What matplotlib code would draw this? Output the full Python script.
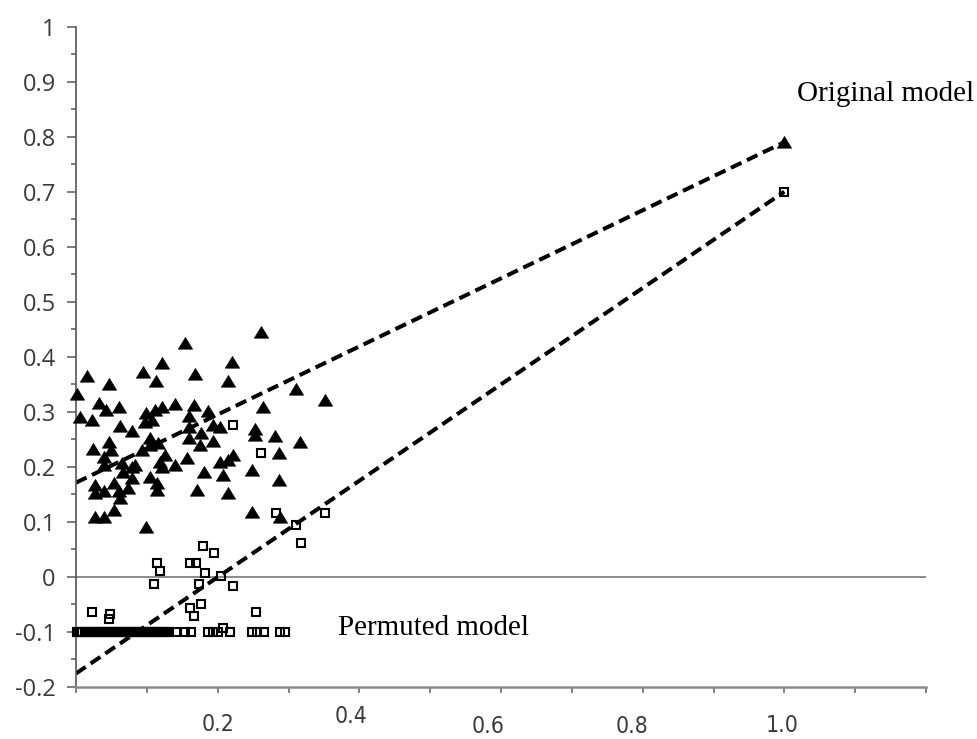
import matplotlib
matplotlib.use("Agg")
import matplotlib.pyplot as plt
from matplotlib import font_manager

# R2 (triangles) and Q2 (squares) of the y-randomised models against the
# correlation between original and permuted responses
R2_X = [0.261, 0.154, 0.016, 0.047, 0.094, 0.122, 0.113, 0.168, 0.220, 0.215,
        0.002, 0.310, 0.351, 0.264, 0.033, 0.042, 0.060, 0.006, 0.022, 0.062,
        0.079, 0.099, 0.112, 0.121, 0.140, 0.166, 0.187, 0.160, 0.097, 0.107,
        0.194, 0.203, 0.159, 0.177, 0.253, 0.253, 0.160, 0.104, 0.024, 0.047,
        0.050, 0.039, 0.039, 0.065, 0.083, 0.093, 0.104, 0.116, 0.175, 0.194,
        0.281, 0.316, 0.286, 0.221, 0.215, 0.203, 0.156, 0.140, 0.119, 0.126,
        0.121, 0.066, 0.079, 0.180, 0.208, 0.249, 0.286, 0.104, 0.114, 0.114,
        0.027, 0.027, 0.039, 0.053, 0.060, 0.062, 0.074, 0.079, 0.171, 0.215,
        0.053, 0.027, 0.039, 0.099, 0.249, 0.288]
R2_Y = [0.445, 0.424, 0.364, 0.350, 0.373, 0.388, 0.355, 0.369, 0.391, 0.355,
        0.333, 0.341, 0.321, 0.308, 0.316, 0.303, 0.308, 0.290, 0.285, 0.274,
        0.265, 0.297, 0.303, 0.309, 0.314, 0.312, 0.302, 0.292, 0.282, 0.285,
        0.276, 0.273, 0.273, 0.261, 0.268, 0.258, 0.252, 0.252, 0.232, 0.245,
        0.230, 0.217, 0.203, 0.207, 0.203, 0.230, 0.239, 0.243, 0.239, 0.247,
        0.255, 0.245, 0.224, 0.221, 0.213, 0.209, 0.215, 0.203, 0.209, 0.221,
        0.200, 0.191, 0.200, 0.191, 0.185, 0.194, 0.176, 0.182, 0.170, 0.158,
        0.167, 0.152, 0.155, 0.170, 0.155, 0.143, 0.161, 0.179, 0.158, 0.152,
        0.121, 0.109, 0.109, 0.091, 0.118, 0.109]

Q2_X = [0.221, 0.261, 0.282, 0.352, 0.311, 0.317, 0.179, 0.195, 0.115, 0.118,
        0.161, 0.170, 0.182, 0.204, 0.110, 0.173, 0.221, 0.023, 0.048, 0.046,
        0.161, 0.176, 0.167, 0.254,
        0.141, 0.154, 0.163, 0.187, 0.194, 0.201, 0.208, 0.217, 0.249, 0.256,
        0.265, 0.288, 0.295,
        0.002, 0.004, 0.007, 0.009, 0.012, 0.015, 0.017, 0.020, 0.023, 0.025,
        0.028, 0.031, 0.033, 0.036, 0.038, 0.041, 0.044, 0.046, 0.049, 0.052,
        0.054, 0.057, 0.060, 0.062, 0.065, 0.067, 0.070, 0.073, 0.075, 0.078,
        0.081, 0.083, 0.086, 0.089, 0.091, 0.094, 0.096, 0.099, 0.102, 0.104,
        0.107, 0.110, 0.112, 0.115, 0.118, 0.120, 0.123, 0.125, 0.128, 0.131]
Q2_Y = [0.276, 0.224, 0.116, 0.116, 0.094, 0.061, 0.055, 0.043, 0.024, 0.011,
        0.024, 0.024, 0.006, 0.001, -0.013, -0.013, -0.017, -0.064, -0.068, -0.077,
        -0.057, -0.050, -0.071, -0.064,
        -0.1, -0.1, -0.1, -0.1, -0.1, -0.1, -0.093, -0.1, -0.1, -0.1,
        -0.1, -0.1, -0.1,
        -0.1, -0.1, -0.1, -0.1, -0.1, -0.1, -0.1, -0.1, -0.1, -0.1,
        -0.1, -0.1, -0.1, -0.1, -0.1, -0.1, -0.1, -0.1, -0.1, -0.1,
        -0.1, -0.1, -0.1, -0.1, -0.1, -0.1, -0.1, -0.1, -0.1, -0.1,
        -0.1, -0.1, -0.1, -0.1, -0.1, -0.1, -0.1, -0.1, -0.1, -0.1,
        -0.1, -0.1, -0.1, -0.1, -0.1, -0.1, -0.1, -0.1, -0.1, -0.1]

# original (non-permuted) model and the intercepts of the randomisation lines
ORIG_X = 1.0
ORIG_R2 = 0.79
ORIG_Q2 = 0.70
R2_INTERCEPT = 0.171
Q2_INTERCEPT = -0.176

Y_TICKS = [-0.2, -0.1, 0.0, 0.1, 0.2, 0.3, 0.4, 0.5, 0.6, 0.7, 0.8, 0.9, 1.0]
Y_LABELS = ["-0.2", "-0.1", "0", "0.1", "0.2", "0.3", "0.4", "0.5", "0.6",
            "0.7", "0.8", "0.9", "1"]
X_LABEL_TICKS = [0.2, 0.4, 0.6, 0.8, 1.0]
X_LABELS = ["0.2", "0.4", "0.6", "0.8", "1.0"]
# hand-placed x labels: (dx, dy) offsets in points from the tick at the axis
X_LABEL_OFFSETS = [(0.4, -27.0), (-5.8, -21.6), (-9.0, -29.0), (-7.9, -29.0),
                   (-1.8, -28.0)]

fonts = {f.name for f in font_manager.fontManager.ttflist}
narrow = "Liberation Sans Narrow" if "Liberation Sans Narrow" in fonts else "DejaVu Sans"
sans = "Open Sans" if "Open Sans" in fonts else "DejaVu Sans"
serif = "Liberation Serif" if "Liberation Serif" in fonts else "DejaVu Serif"

fig = plt.figure(figsize=(9.77, 7.39), dpi=100)
ax = fig.add_axes([0.0778, 0.0708, 0.8700, 0.8931])
ax.set_xlim(0, 1.2)
ax.set_ylim(-0.2, 1.0)

# zero reference line
ax.axhline(0, color="#8a8a8a", lw=1.4, zorder=1)

# randomisation regression lines
dash = dict(color="black", lw=2.9, dashes=(2.9, 1.5), zorder=2)
ax.plot([0, ORIG_X], [R2_INTERCEPT, ORIG_R2], **dash)
ax.plot([0, ORIG_X], [Q2_INTERCEPT, ORIG_Q2], **dash)

tri = [(-1, -0.8), (1, -0.8), (0, 0.85), (-1, -0.8)]
ax.plot(R2_X + [ORIG_X], R2_Y + [ORIG_R2], ls="none", marker=tri, ms=10.2,
        mfc="black", mec="black", mew=0.5, zorder=3, clip_on=False)
ax.plot(Q2_X + [ORIG_X], Q2_Y + [ORIG_Q2], ls="none", marker="s", ms=5.8,
        mfc="none", mec="black", mew=1.5, zorder=4, clip_on=False)

# axes styling
for side in ("top", "right"):
    ax.spines[side].set_visible(False)
ax.spines["left"].set_color("#555555")
ax.spines["left"].set_linewidth(1.2)
ax.spines["bottom"].set_color("#8a8a8a")
ax.spines["bottom"].set_linewidth(1.8)

ax.set_yticks(Y_TICKS)
ax.set_yticklabels(Y_LABELS, fontfamily=sans, fontsize=17, color="#3a3a3a")
ax.set_yticks([t + 0.05 for t in Y_TICKS[:-1]], minor=True)
ax.tick_params(axis="y", which="major", length=6.5, width=1.2, color="#666666", pad=8)
ax.tick_params(axis="y", which="minor", length=3.6, width=1.2, color="#666666")

ax.set_xticks([i / 10 for i in range(13)])
ax.set_xticklabels([])
ax.tick_params(axis="x", which="major", length=4.5, width=1.3, color="#777777")

for t, lab, (dx, dy) in zip(X_LABEL_TICKS, X_LABELS, X_LABEL_OFFSETS):
    ax.annotate(lab, xy=(t, 0), xycoords=("data", "axes fraction"),
                xytext=(dx, dy), textcoords="offset points",
                ha="center", va="center", fontsize=16.5, color="#3a3a3a",
                fontfamily=narrow, fontstretch="condensed", annotation_clip=False)

ax.text(1.018, 0.865, "Original model", fontfamily=serif, fontsize=21,
        va="baseline", ha="left", clip_on=False)
ax.text(0.370, -0.106, "Permuted model", fontfamily=serif, fontsize=21,
        va="baseline", ha="left", clip_on=False)

fig.savefig("out.png", dpi=100)
